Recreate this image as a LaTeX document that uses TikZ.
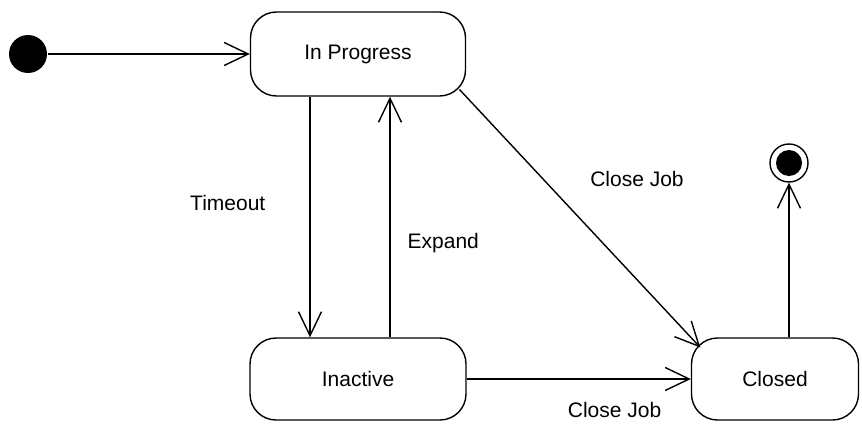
\documentclass[tikz,border=0pt]{standalone}
\usepackage{fontspec}
\setmainfont{Liberation Sans}
\usetikzlibrary{arrows.meta}

\begin{document}
\begin{tikzpicture}[
    x=1pt,
    y=-1pt,
    font=\fontsize{21}{25}\selectfont,
    line width=1.4pt,
    state/.style={draw, rounded corners=26pt, minimum height=84pt, inner sep=0},
    lbl/.style={inner sep=0},
    >={Straight Barb[length=24pt,width=23pt]}]

    \useasboundingbox (0,0) rectangle (862,423);

    % Pseudo states
    \node[circle, fill, minimum size=38pt, inner sep=0] (start) at (28,54) {};
    \node[circle, draw, minimum size=38pt, inner sep=0,
          path picture={\fill (path picture bounding box.center) circle (13pt);}]
          (end) at (789,163) {};

    % States
    \node[state, minimum width=215pt] (prog) at (358,54) {In Progress};
    \node[state, minimum width=216pt, minimum height=82pt] (inact) at (358,379) {Inactive};
    \node[state, minimum width=167pt, minimum height=82pt] (closed) at (775,379) {Closed};

    % Transitions
    \draw[->] (start) -- (prog);
    \draw[->] ([xshift=-48pt]prog.south) --
               node[lbl, pos=0.44, left=44pt] {Timeout} ([xshift=-48pt]inact.north);
    \draw[->] ([xshift=32pt]inact.north) --
               node[lbl, pos=0.39, right=17pt] {Expand} ([xshift=32pt]prog.south);
    \draw[->, shorten <=-10pt, shorten >=-14pt] (prog.south east) --
               node[lbl, pos=0.34, right=47pt] {Close Job} (closed.north west);
    \draw[->] (inact) -- node[lbl, pos=0.66, below=23pt] {Close Job} (closed);
    \draw[->] ([xshift=14pt]closed.north) -- (end);
  \end{tikzpicture}
\end{document}
